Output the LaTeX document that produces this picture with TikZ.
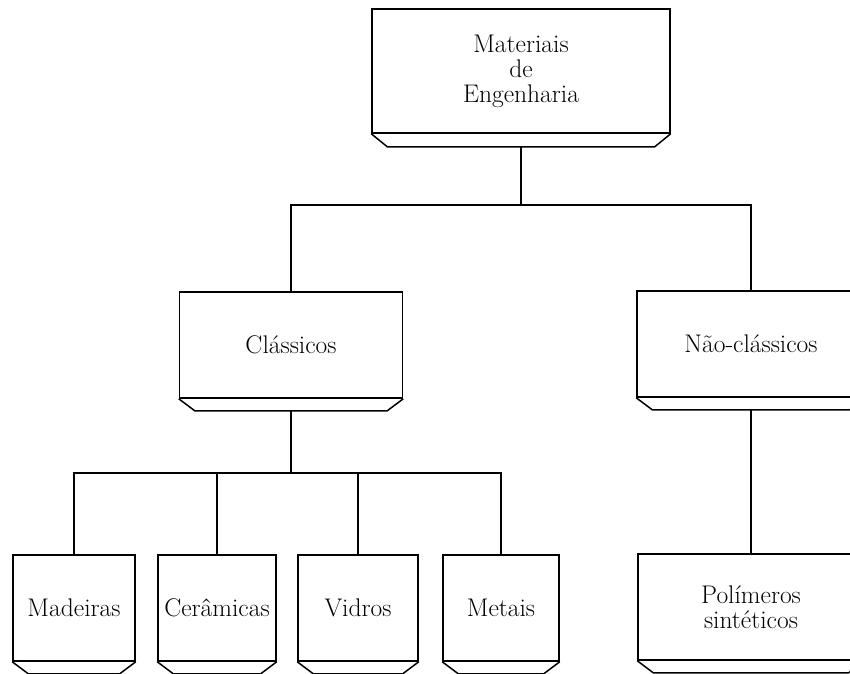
\documentclass[tikz,border=0pt]{standalone}
\usetikzlibrary{calc}
\begin{document}
\begin{tikzpicture}[x=1pt,y=-1pt,line width=1.5pt,
  box/.style={draw, rectangle, inner sep=0pt, align=center,
    font=\fontsize{25.5}{25}\selectfont, minimum height=106pt},
  conn/.style={line width=1.5pt}]
\useasboundingbox (0,0) rectangle (850,673);
\clip (0,0) rectangle (850,673);
\fill[white] (0,0) rectangle (850,673);
% nodes
\node[box, minimum width=298pt, minimum height=124pt] (mat) at (521,71) {Materiais\\de\\Engenharia};
\node[box, minimum width=223pt] (cla) at (291,345) {Clássicos};
\node[box, minimum width=228pt] (nao) at (751,344) {Não-clássicos};
\node[box, minimum width=122pt] (mad) at (74,608) {Madeiras};
\node[box, minimum width=118pt] (cer) at (217,608) {Cerâmicas};
\node[box, minimum width=120pt] (vid) at (358,608) {Vidros};
\node[box, minimum width=116pt] (met) at (501,608) {Metais};
\node[box, minimum width=226pt] (pol) at (751,607) {Polímeros\\sintéticos};
% bevelled bases
\foreach \n/\h in {mat/13,cla/12,nao/12,mad/12,cer/12,vid/12,met/12,pol/12}{
  \draw (\n.south west) -- ($(\n.south west)+(16,\h)$) -- ($(\n.south east)+(-16,\h)$) -- (\n.south east);
  \coordinate (\n b) at ($(\n.south)+(0,\h)$);
}
% junctions
\coordinate (j1) at (521,205);
\coordinate (j2) at (291,473);
% connectors
\draw[conn] (matb) -- (j1);
\draw[conn] (cla.north) |- (j1) -| (nao.north);
\draw[conn] (clab) -- (j2);
\draw[conn] (mad.north) |- (j2) -| (met.north);
\draw[conn] (cer.north) -- (cer.north |- j2);
\draw[conn] (vid.north) -- (vid.north |- j2);
\draw[conn] (naob) -- (pol.north);
\end{tikzpicture}
\end{document}
